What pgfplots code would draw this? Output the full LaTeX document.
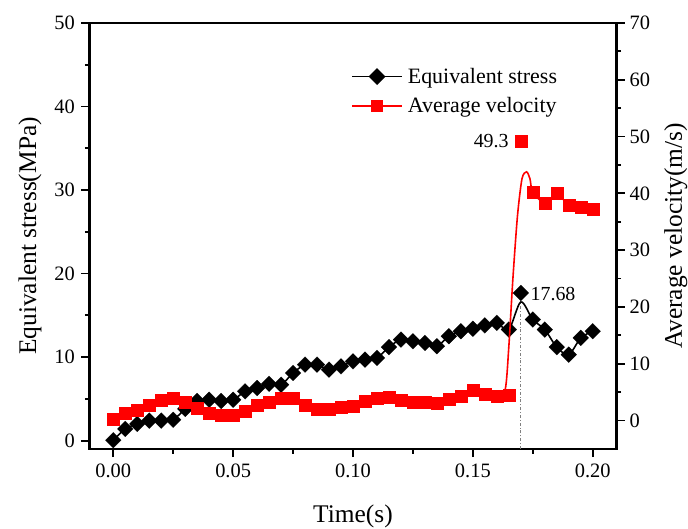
\documentclass[border=0pt]{standalone}
\usepackage{fontspec}
\setmainfont{Liberation Serif}
\usepackage{pgfplots}
\usepackage{pgfplotstable}
\pgfplotsset{compat=1.18}

\pgfplotstableread{
t s
0 0.05
0.005 1.4
0.01 2.0
0.015 2.4
0.02 2.4
0.025 2.5
0.03 3.8
0.035 4.75
0.04 4.9
0.045 4.75
0.05 4.9
0.055 5.9
0.06 6.3
0.065 6.8
0.07 6.7
0.075 8.1
0.08 9.1
0.085 9.1
0.09 8.5
0.095 8.9
0.1 9.5
0.105 9.7
0.11 9.9
0.115 11.2
0.12 12.1
0.125 11.9
0.13 11.7
0.135 11.3
0.14 12.5
0.145 13.1
0.15 13.4
0.155 13.8
0.16 14.1
0.165 13.3
0.17 17.68
0.175 14.5
0.18 13.3
0.185 11.2
0.19 10.3
0.195 12.3
0.2 13.1
}\stressdata

\pgfplotstableread{
t s
0 0.05
0.005 1.4
0.01 2.0
0.015 2.4
0.02 2.4
0.025 2.5
0.03 3.8
0.035 4.75
0.04 4.9
0.045 4.75
0.05 4.9
0.055 5.9
0.06 6.3
0.065 6.8
0.07 6.7
0.075 8.1
0.08 9.1
0.085 9.1
0.09 8.5
0.095 8.9
0.1 9.5
0.105 9.7
0.11 9.9
0.115 11.2
0.12 12.1
0.125 11.9
0.13 11.7
0.135 11.3
0.14 12.5
0.145 13.1
0.15 13.4
0.155 13.8
0.16 14.1
0.165 13.3
0.17 16.6
0.175 14.5
0.18 13.3
0.185 11.2
0.19 10.3
0.195 12.3
0.2 13.1
}\stressline

\pgfplotstableread{
t v
0 0.3
0.005 1.35
0.01 1.9
0.015 2.8
0.02 3.6
0.025 3.9
0.03 3.3
0.035 2.2
0.04 1.35
0.045 1.0
0.05 1.05
0.055 1.75
0.06 2.75
0.065 3.2
0.07 3.9
0.075 3.9
0.08 2.75
0.085 2.05
0.09 2.05
0.095 2.3
0.1 2.6
0.105 3.5
0.11 3.9
0.115 4.2
0.12 3.7
0.125 3.2
0.13 3.2
0.135 3.1
0.14 3.8
0.145 4.3
0.15 5.3
0.155 4.7
0.16 4.3
0.165 4.5
0.17 49.3
0.175 40.2
0.18 38.3
0.185 40.0
0.19 37.9
0.195 37.6
0.2 37.2
}\veldata

\pgfplotstableread{
t v
0 0.3
0.005 1.35
0.01 1.9
0.015 2.8
0.02 3.6
0.025 3.9
0.03 3.3
0.035 2.2
0.04 1.35
0.045 1.0
0.05 1.05
0.055 1.75
0.06 2.75
0.065 3.2
0.07 3.9
0.075 3.9
0.08 2.75
0.085 2.05
0.09 2.05
0.095 2.3
0.1 2.6
0.105 3.5
0.11 3.9
0.115 4.2
0.12 3.7
0.125 3.2
0.13 3.2
0.135 3.1
0.14 3.8
0.145 4.3
0.15 5.3
0.155 4.7
0.16 4.3
0.1635 5.5
0.1650 13.0
0.1667 25.0
0.1686 36.0
0.1705 42.6
0.1724 43.8
0.1738 42.6
0.175 40.2
0.18 38.3
0.185 40.0
0.19 37.9
0.195 37.6
0.2 37.2
}\velline

\begin{document}
\begin{tikzpicture}
\pgfplotsset{
  every axis/.append style={
    scale only axis, width=527.4bp, height=426bp,
    xmin=-0.01, xmax=0.21,
    axis line style={line width=2.6bp},
    major tick length=8bp, minor tick length=4.5bp,
    major tick style={black, line width=1.8bp},
    minor tick style={black, line width=1.8bp},
    tick align=outside,
    ticklabel style={font=\fontsize{20.5}{23}\selectfont},
    label style={font=\fontsize{25.5}{29}\selectfont},
    /pgf/number format/assume math mode=true,
  }
}
\begin{axis}[
  at={(0,0)}, anchor=south west,
  ymin=-1, ymax=50,
  xtick={0,0.05,0.1,0.15,0.2}, minor x tick num=1,
  ytick={0,10,20,30,40,50}, minor y tick num=1,
  xtick pos=left, ytick pos=left,
  scaled x ticks=false,
  xticklabel style={yshift=-3bp, /pgf/number format/fixed, /pgf/number format/fixed zerofill, /pgf/number format/precision=2},
  yticklabel style={xshift=-3bp},
  xlabel={Time(s)}, ylabel={Equivalent stress(MPa)},
  xlabel style={at={(axis description cs:0.5,-0.158)}, anchor=center},
  ylabel style={at={(axis description cs:-0.1124,0.5)}, anchor=center},
]
\addplot[gray, line width=0.8bp, dash dot, forget plot] coordinates {(0.17,-1) (0.17,16.6)};
\addplot[black, line width=1.6bp, smooth, tension=0.5, forget plot] table[x=t, y=s] {\stressline};
\addplot[only marks, mark=square*, mark size=5.6bp, mark options={rotate=45, fill=black, draw=black, line width=0.1bp}, forget plot] table[x=t, y=s] {\stressdata};
\node[anchor=west, inner sep=0pt, font=\fontsize{20}{22}\selectfont] at (axis cs:0.174,17.6) {17.68};
\end{axis}
\begin{axis}[
  at={(0,0)}, anchor=south west,
  ymin=-5, ymax=70,
  axis x line=none, axis y line*=right,
  ytick={0,10,20,30,40,50,60,70}, minor y tick num=1,
  yticklabel style={xshift=1.5bp},
  ylabel={Average velocity(m/s)},
  ylabel style={at={(axis description cs:1.112,0.5)}, anchor=center},
  legend style={draw=none, fill=none, at={(axis description cs:0.4907,0.9036)}, anchor=north west,
    font=\fontsize{22}{26}\selectfont, row sep=8.7bp},
  legend cell align=left,
  legend image code/.code={\draw[#1, mark repeat=2, mark phase=2] plot coordinates {(0bp,0bp) (25bp,0bp) (50bp,0bp)}; \path (53bp,0bp);},
]
\addlegendimage{black, line width=1.6bp, mark=square*, mark size=5.2bp, mark options={rotate=45}}
\addlegendentry{Equivalent stress}
\addlegendimage{red, line width=1.6bp, mark=square*, mark size=5bp}
\addlegendentry{Average velocity}
\addplot[red, line width=1.6bp, smooth, tension=0.45, forget plot] table[x=t, y=v] {\velline};
\addplot[only marks, mark=square*, mark size=6bp, mark options={fill=red, draw=red, line width=0.1bp}, forget plot] table[x=t, y=v] {\veldata};
\node[anchor=east, inner sep=0pt, font=\fontsize{20}{22}\selectfont] at (axis cs:0.165,49.3) {49.3};
\end{axis}
\pgfresetboundingbox
\path[use as bounding box] (-89.3bp,-80bp) rectangle (598.7bp,449bp);
\end{tikzpicture}
\end{document}
